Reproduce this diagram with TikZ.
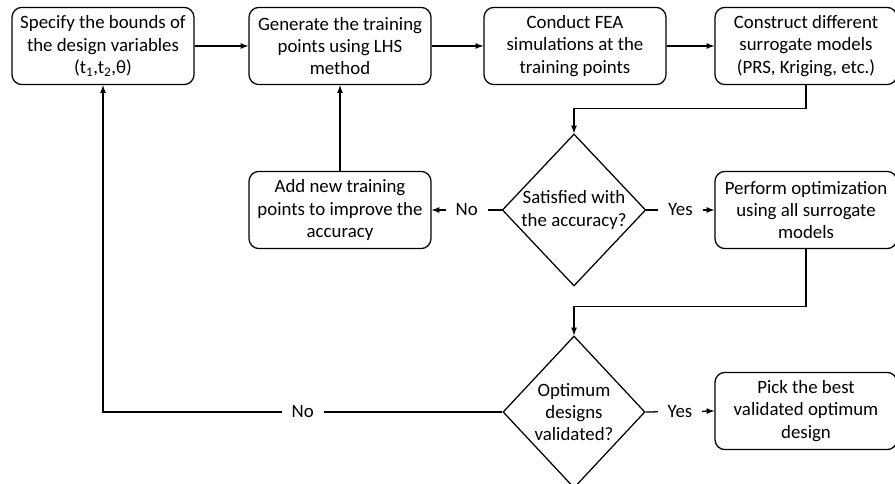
\documentclass[tikz,border=0pt]{standalone}
\usepackage{fontspec}
\setmainfont{Carlito}
\usetikzlibrary{arrows,shapes.geometric}

\begin{document}
\begin{tikzpicture}[x=0.025cm,y=-0.025cm,line width=0.9pt,
  font=\fontsize{13.4}{15.8}\selectfont,
  box/.style={draw,rounded corners=0.25cm,align=center,inner sep=0pt,
    minimum width=4.55cm,minimum height=1.93cm},
  decide/.style={draw,diamond,align=center,inner sep=0pt,
    minimum width=3.55cm,minimum height=3.8cm},
  lbl/.style={fill=white,inner sep=0.25cm}]
  \useasboundingbox (0,0) rectangle (895,484);

  \node[box] (spec) at (103,46) {Specify the bounds of\\the design variables\\(t\textsubscript{1},t\textsubscript{2},θ)};
  \node[box] (gen) at (340,46) {Generate the training\\points using LHS\\method};
  \node[box] (fea) at (575,46) {Conduct FEA\\simulations at the\\training points};
  \node[box] (surr) at (806,46) {Construct different\\surrogate models\\(PRS, Kriging, etc.)};

  \node[box] (add) at (340,210) {Add new training\\points to improve the\\accuracy};
  \node[decide] (sat) at (574,210) {Satisfied with\\the accuracy?};
  \node[box] (opt) at (806,210) {Perform optimization\\using all surrogate\\models};

  \node[decide] (valid) at (574,412) {Optimum\\designs\\validated?};
  \node[box] (pick) at (806,411) {Pick the best\\validated optimum\\design};

  \draw[-latex] (spec) edge (gen);
  \draw[-latex] (gen) edge (fea);
  \draw[-latex] (fea) edge (surr);
  \draw[-latex] (surr.south) -- ++(0,23) -| (sat.north);
  \draw[-latex] (sat.west) -- node[lbl]{No} (add.east);
  \draw[-latex] (sat.east) -- node[lbl]{Yes} (opt.west);
  \draw[-latex] (add.north) -- (gen.south);
  \draw[-latex] (opt.south) -- ++(0,57) -| (valid.north);
  \draw[-latex] (valid.east) -- node[lbl]{Yes} (pick.west);
  \draw[-latex] (valid.west) -- node[lbl]{No} (spec.south |- valid.west) -- (spec.south);

\end{tikzpicture}
\end{document}
